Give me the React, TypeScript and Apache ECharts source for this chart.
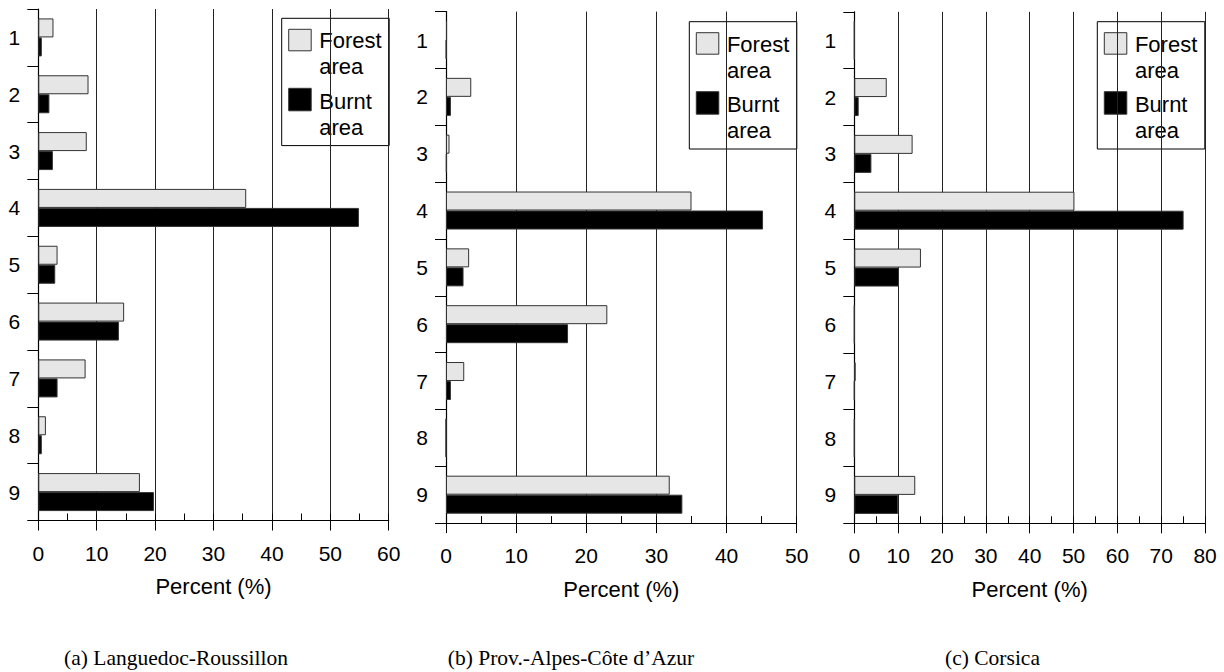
import React, { useEffect, useRef } from 'react';
import * as echarts from 'echarts';

// ---- data ----
const categories = ['1', '2', '3', '4', '5', '6', '7', '8', '9'];
const seriesNames = ['Forest area', 'Burnt area'];

const lrForest = [2.6, 8.6, 8.3, 35.6, 3.3, 14.7, 8.1, 1.3, 17.4];
const lrBurnt = [0.6, 1.9, 2.5, 54.9, 2.9, 13.8, 3.3, 0.6, 19.8];

const pacaForest = [0.15, 3.6, 0.5, 35.0, 3.3, 23.0, 2.6, 0, 31.9];
const pacaBurnt = [0.05, 0.7, 0.1, 45.2, 2.5, 17.4, 0.7, 0, 33.7];

const corsForest = [0, 7.4, 13.3, 50.2, 15.2, 0, 0.3, 0, 13.9];
const corsBurnt = [0, 1.0, 3.9, 75.1, 10.2, 0, 0, 0, 10.0];

const axisMaxima = [60, 50, 80];
const captions = ['(a) Languedoc-Roussillon', '(b) Prov.-Alpes-Côte d’Azur', '(c) Corsica'];
const xAxisName = 'Percent (%)';
const legendLines = [['Forest', 'area'], ['Burnt', 'area']];

// ---- layout ----
const layout = [
  { left: 38.3, top: 9, width: 350.4, legendX: 281.7, legendY: 18.3, captionX: 176 },
  { left: 446, top: 11.6, width: 350.7, legendX: 689.3, legendY: 21.7, captionX: 571 },
  { left: 854.3, top: 11.8, width: 350.8, legendX: 1097.3, legendY: 21.7, captionX: 992.5 },
];
const panelData = [
  [lrForest, lrBurnt],
  [pacaForest, pacaBurnt],
  [corsForest, corsBurnt],
];
const plotHeight = 511.5;
const FONT = '"Liberation Sans", Arial, Helvetica, sans-serif';
const forestColor = '#e6e6e6';

function legendGraphic(x: number, y: number) {
  const textStyle = (text: string, ty: number) => ({
    type: 'text',
    style: {
      text,
      x: 37.6,
      y: ty,
      fill: '#000',
      fontSize: 22,
      fontFamily: FONT,
      verticalAlign: 'middle',
      align: 'left',
    },
  });
  return {
    type: 'group',
    x,
    y,
    children: [
      {
        type: 'rect',
        shape: { x: 0, y: 0, width: 107.5, height: 127.3 },
        style: { fill: '#fff', stroke: '#000', lineWidth: 1 },
      },
      {
        type: 'rect',
        shape: { x: 7, y: 11, width: 22.5, height: 21.5 },
        style: { fill: forestColor, stroke: '#333', lineWidth: 1 },
      },
      {
        type: 'rect',
        shape: { x: 7, y: 70, width: 22.5, height: 22.5 },
        style: { fill: '#000', stroke: '#333', lineWidth: 1 },
      },
      textStyle(legendLines[0][0], 22.4),
      textStyle(legendLines[0][1], 48.4),
      textStyle(legendLines[1][0], 83.1),
      textStyle(legendLines[1][1], 109.1),
    ],
  };
}

export default function App() {
  const ref = useRef<HTMLDivElement>(null);

  useEffect(() => {
    if (!ref.current) return;
    const chart = echarts.init(ref.current, null, { renderer: 'svg' });

    const grid: any[] = [];
    const xAxis: any[] = [];
    const yAxis: any[] = [];
    const series: any[] = [];
    const graphic: any[] = [];

    layout.forEach((p, i) => {
      grid.push({ left: p.left, top: p.top, width: p.width, height: plotHeight, containLabel: false });
      // main value axis
      xAxis.push({
        type: 'value',
        gridIndex: i,
        position: 'bottom',
        min: 0,
        max: axisMaxima[i],
        interval: 10,
        name: xAxisName,
        nameLocation: 'middle',
        nameGap: 55,
        nameTextStyle: { fontSize: 22, fontFamily: FONT, color: '#000' },
        axisLine: { show: true, onZero: false, lineStyle: { color: '#000', width: 1.2 } },
        axisTick: { show: true, inside: false, length: 10, lineStyle: { color: '#000', width: 1 } },
        axisLabel: { show: true, margin: 22, fontSize: 21, fontFamily: FONT, color: '#000' },
        splitLine: { show: true, lineStyle: { color: '#222', width: 1 } },
      });
      // minor inside ticks
      xAxis.push({
        type: 'value',
        gridIndex: i,
        position: 'bottom',
        min: 0,
        max: axisMaxima[i],
        interval: 5,
        axisLine: { show: false, onZero: false },
        axisTick: { show: true, inside: true, length: 7, lineStyle: { color: '#000', width: 1 } },
        axisLabel: { show: false },
        splitLine: { show: false },
      });
      yAxis.push({
        type: 'category',
        gridIndex: i,
        data: categories,
        inverse: true,
        boundaryGap: true,
        axisLine: { show: true, onZero: false, lineStyle: { color: '#000', width: 1.2 } },
        axisTick: { show: true, inside: false, length: 11, lineStyle: { color: '#000', width: 1 } },
        axisLabel: { show: true, margin: 18, fontSize: 21, fontFamily: FONT, color: '#000' },
        splitLine: { show: false },
      });
      const [forest, burnt] = panelData[i];
      series.push({
        type: 'bar',
        name: seriesNames[0],
        xAxisIndex: 2 * i,
        yAxisIndex: i,
        data: forest,
        barWidth: 19,
        barGap: '0%',
        itemStyle: { color: forestColor, borderColor: '#333', borderWidth: 1 },
      });
      series.push({
        type: 'bar',
        name: seriesNames[1],
        xAxisIndex: 2 * i,
        yAxisIndex: i,
        data: burnt,
        barWidth: 19,
        barGap: '0%',
        itemStyle: { color: '#000', borderColor: '#333', borderWidth: 1 },
      });
      graphic.push(legendGraphic(p.legendX, p.legendY));
      graphic.push({
        type: 'text',
        style: {
          text: captions[i],
          x: p.captionX,
          y: 658,
          fill: '#000',
          fontSize: 21.5,
          fontFamily: '"Liberation Serif", "Times New Roman", serif',
          align: 'center',
          verticalAlign: 'middle',
        },
      });
    });

    chart.setOption({
      animation: false,
      backgroundColor: '#fff',
      grid,
      xAxis,
      yAxis,
      series,
      graphic,
    });

    return () => chart.dispose();
  }, []);

  return (
    <div
      ref={ref}
      style={{ position: 'absolute', left: 0, top: 0, width: 1224, height: 672 }}
    />
  );
}
